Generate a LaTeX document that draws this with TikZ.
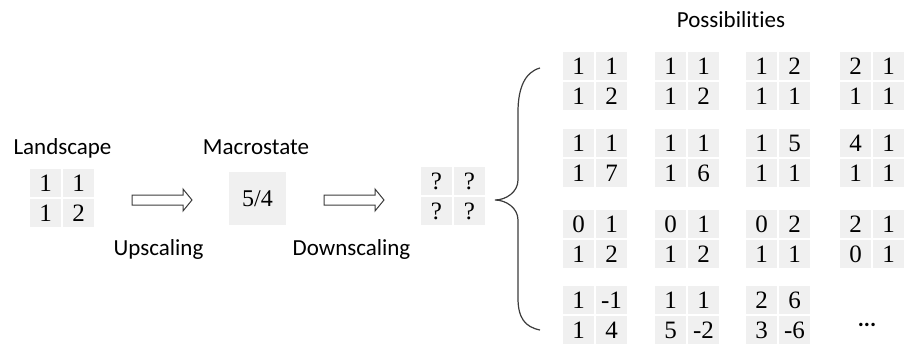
\documentclass[tikz,border=0pt]{standalone}
\usepackage{fontspec}
\setmainfont{Liberation Serif}
\newfontfamily\labfont[Ligatures={NoCommon}]{Carlito}
\definecolor{cellgray}{RGB}{240,240,240}
\definecolor{inkgray}{RGB}{60,60,60}
\tikzset{
  cellfill/.style={fill=cellgray},
  celltext/.style={inner sep=0pt, text height=17pt, text depth=0pt, font=\fontsize{25}{25}\selectfont},
  macrobox/.style={rectangle, fill=cellgray, minimum width=57pt, minimum height=53pt,
    inner sep=0pt, text height=16pt, text depth=0pt, font=\fontsize{24}{24}\selectfont},
  lab/.style={inner sep=0pt, anchor=base, font=\labfont\fontsize{23}{23}\selectfont},
  hollowarrow/.style={draw=inkgray, line width=1pt, fill=white, line join=miter},
  bracestyle/.style={draw=inkgray, line width=1.2pt}
}
\newcommand{\twobytwo}[7]{%
  \fill[cellfill] (#2,#3) rectangle (#2+31,#3+28);
  \fill[cellfill] (#2+33,#3) rectangle (#2+64,#3+28);
  \fill[cellfill] (#2,#3+30) rectangle (#2+31,#3+58);
  \fill[cellfill] (#2+33,#3+30) rectangle (#2+64,#3+58);
  \node[celltext] (#1-a) at (#2+15.5,#3+14) {#4};
  \node[celltext] (#1-b) at (#2+48.5,#3+14) {#5};
  \node[celltext] (#1-c) at (#2+15.5,#3+44) {#6};
  \node[celltext] (#1-d) at (#2+48.5,#3+44) {#7};
}
\begin{document}
\begin{tikzpicture}[x=1pt,y=-1pt]
\useasboundingbox (0,0) rectangle (906,345);

% left part
\node[lab] (tland) at (62.5,154) {Landscape};
\twobytwo{land}{30}{169}{1}{1}{1}{2}
\node[lab] (tmacro) at (256,154) {Macrostate};
\node[macrobox] (macro) at (257.5,198.5) {5/4};
\twobytwo{q}{421}{167}{?}{?}{?}{?}
\node[lab] (tup) at (158.5,255) {Upscaling};
\node[lab] (tdown) at (351.5,255) {Downscaling};

% hollow arrows
\draw[hollowarrow] (132,195) -- (183,195) -- (183,189) -- (192,200) -- (183,211) -- (183,205) -- (132,205) -- cycle;
\draw[hollowarrow] (324,195) -- (375,195) -- (375,189) -- (384,200) -- (375,211) -- (375,205) -- (324,205) -- cycle;

% brace
\coordinate (btop) at (540,68);
\coordinate (btip) at (495,200);
\coordinate (bbot) at (540,330);
\draw[bracestyle] (btop) .. controls (525,72) and (518,88) .. (518,112) -- (518,180)
  .. controls (518,192) and (506,200) .. (btip)
  .. controls (506,200) and (518,208) .. (518,220) -- (518,298)
  .. controls (518,318) and (525,327) .. (bbot);

% possibilities
\node[lab] (tposs) at (731,28) {Possibilities};
\twobytwo{p11}{563}{52}{1}{1}{1}{2}
\twobytwo{p12}{655}{52}{1}{1}{1}{2}
\twobytwo{p13}{746}{52}{1}{2}{1}{1}
\twobytwo{p14}{840}{52}{2}{1}{1}{1}
\twobytwo{p21}{563}{129}{1}{1}{1}{7}
\twobytwo{p22}{655}{129}{1}{1}{1}{6}
\twobytwo{p23}{746}{129}{1}{5}{1}{1}
\twobytwo{p24}{840}{129}{4}{1}{1}{1}
\twobytwo{p31}{563}{210}{0}{1}{1}{2}
\twobytwo{p32}{655}{210}{0}{1}{1}{2}
\twobytwo{p33}{746}{210}{0}{2}{1}{1}
\twobytwo{p34}{840}{210}{2}{1}{0}{1}
\twobytwo{p41}{563}{286}{1}{-1}{1}{4}
\twobytwo{p42}{655}{286}{1}{1}{5}{-2}
\twobytwo{p43}{746}{286}{2}{6}{3}{-6}
\node[lab, font=\labfont\bfseries\fontsize{23}{23}\selectfont] (dots) at (867,326) {...};
\end{tikzpicture}
\end{document}
